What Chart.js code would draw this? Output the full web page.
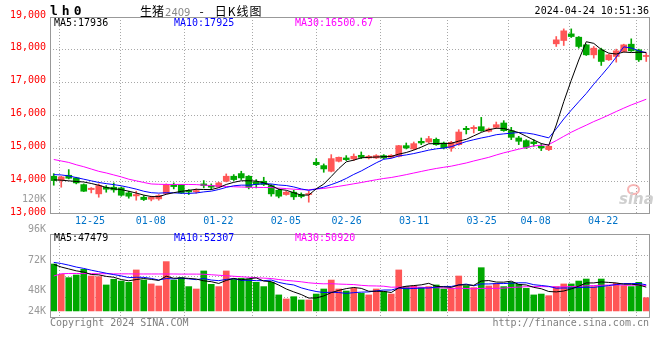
<!DOCTYPE html>
<html>
<head>
<meta charset="utf-8">
<script src="https://cdn.jsdelivr.net/npm/chart.js@4.4.0/dist/chart.umd.min.js"></script>
<style>
body { margin: 0; background: #fff; }
#wrap { position: relative; width: 660px; height: 360px; overflow: hidden; background: #fff; }
canvas { position: absolute; left: 0; top: 0; }
.t { position: absolute; font: 10px "DejaVu Sans Mono", monospace; line-height: 10px; white-space: nowrap; color: #000; }
</style>
</head>
<body>
<div id="wrap">
<canvas id="kline" width="660" height="230"></canvas>
<canvas id="vol" width="660" height="360"></canvas>
<div class="t" style="left:50px;top:4px;font-weight:bold;font-size:13px;line-height:13px;letter-spacing:4px">lh0</div>
<div class="t" style="left:140px;top:5px;font-family:'Noto Sans CJK SC';font-size:12px;line-height:12px">生猪<span style="color:#888;font-family:'DejaVu Sans';font-size:10px;margin-left:1px">2409</span><span style="margin:0 11px 0 9px">-</span><span style="letter-spacing:1px">日K线图</span></div>
<div class="t" style="right:11px;top:6px">2024-04-24 10:51:36</div>
<div class="t" style="left:54px;top:18px">MA5:17936</div>
<div class="t" style="left:174px;top:18px;color:#0000ff">MA10:17925</div>
<div class="t" style="left:295px;top:18px;color:#ff00ff">MA30:16500.67</div>
<div class="t" style="left:54px;top:233px">MA5:47479</div>
<div class="t" style="left:174px;top:233px;color:#0000ff">MA10:52307</div>
<div class="t" style="left:295px;top:233px;color:#ff00ff">MA30:50920</div>
<div class="t" style="left:50px;top:318px;color:#808080">Copyright 2024 SINA.COM</div>
<div class="t" style="right:11px;top:318px;color:#808080">http://finance.sina.com.cn</div>
<div style="position:absolute;left:627px;top:184px;width:9px;height:7px;border:2px solid rgba(240,120,120,0.55);border-radius:50%"></div>
<div class="t" style="left:619px;top:192px;font:italic bold 15px 'DejaVu Sans';line-height:15px;color:#cfcfcf">sina</div>
</div>
<script>
// datums (handelsdagen)
var dates = ['12-22','12-25','12-26','12-27','12-28','12-29','01-02','01-03','01-04','01-05',
  '01-08','01-09','01-10','01-11','01-12','01-15','01-16','01-17','01-18','01-19',
  '01-22','01-23','01-24','01-25','01-26','01-29','01-30','01-31','02-01','02-02',
  '02-05','02-06','02-07','02-08','02-19','02-20','02-21','02-22','02-23','02-26',
  '02-27','02-28','02-29','03-01','03-04','03-05','03-06','03-07','03-08','03-11',
  '03-12','03-13','03-14','03-15','03-18','03-19','03-20','03-21','03-22','03-25',
  '03-26','03-27','03-28','03-29','04-01','04-02','04-03','04-08','04-09','04-10',
  '04-11','04-12','04-15','04-16','04-17','04-18','04-19','04-22','04-23','04-24'];

// welke datums een label krijgen
var tickDates = ['12-25','01-08','01-22','02-05','02-26','03-11','03-25','04-08','04-22'];

var opens = [14150,14028,14180,14099,13896,13744,13613,13815,13815,13795,
  13643,13552,13511,13451,13461,13623,13886,13886,13714,13674,
  13917,13866,13826,13998,14150,14231,14150,13978,13998,13866,
  13724,13593,13664,13593,13593,14575,14474,14302,14606,14707,
  14677,14788,14707,14707,14778,14727,14758,15082,14981,15214,
  15193,15275,15163,15011,15112,15609,15599,15659,15518,15639,
  15772,15539,15316,15235,15194,15062,14961,18183,18284,18486,
  18385,18152,17848,18000,17696,17798,17950,18172,18000,17798];
var highs = [14230,14150,14352,14119,13917,13805,13917,13866,13947,13825,
  13694,13694,13562,13542,13592,13917,13947,13886,13744,13765,
  14018,13917,13967,14221,14200,14302,14170,14048,14119,13897,
  13765,13694,13724,13643,13694,14687,14525,14808,14737,14778,
  14829,14890,14788,14808,14808,14808,15092,15163,15193,15315,
  15366,15315,15193,15214,15568,15670,15690,15943,15619,15801,
  15843,15640,15366,15265,15265,15133,15093,18405,18638,18638,
  18405,18172,18102,18051,17869,18021,18172,18335,18021,17899];
var lows = [13876,13815,14068,13917,13684,13643,13511,13663,13663,13542,
  13481,13420,13410,13400,13420,13613,13765,13623,13592,13633,
  13795,13745,13816,13978,14018,14048,13765,13795,13866,13542,
  13491,13572,13441,13491,13360,14474,14271,14282,14585,14626,
  14626,14687,14677,14687,14677,14707,14737,14981,14960,15112,
  15163,15092,14981,14910,15092,15437,15467,15518,15497,15599,
  15518,15265,15113,14992,15062,14931,14931,18102,18132,18375,
  18051,17828,17747,17524,17676,17625,17929,17950,17646,17646];
var closes = [14018,14129,14089,13947,13694,13785,13866,13755,13734,13572,
  13542,13592,13440,13511,13562,13896,13835,13643,13674,13714,
  13866,13816,13947,14150,14048,14099,13816,13897,13897,13613,
  13542,13664,13522,13532,13623,14504,14373,14687,14727,14656,
  14758,14727,14758,14778,14707,14788,15082,15011,15143,15163,
  15295,15112,15011,15183,15497,15568,15639,15538,15588,15720,
  15539,15336,15215,15032,15144,15012,15062,18304,18578,18405,
  18102,17848,18051,17646,17848,17970,18152,17970,17696,17828];

// gemiddelden van de koers
var ma5 = [14040,14030,14010,13990,13975,13929,13876,13809,13767,13742,
  13694,13639,13576,13531,13529,13600,13649,13689,13722,13752,
  13746,13743,13803,13899,13965,14012,14012,14002,13951,13864,
  13753,13723,13648,13575,13577,13769,13911,14144,14383,14589,
  14640,14711,14725,14735,14746,14752,14823,14873,14946,15037,
  15139,15145,15145,15153,15220,15274,15380,15485,15566,15611,
  15605,15544,15480,15368,15253,15148,15093,15711,16420,17072,
  17690,18247,18197,18010,17899,17873,17933,17917,17927,17923];
var ma10 = [14200,14190,14160,14110,14060,14010,13960,13925,13895,13859,
  13811,13758,13693,13649,13636,13647,13644,13633,13627,13641,
  13673,13696,13746,13810,13859,13879,13877,13903,13925,13915,
  13883,13867,13825,13763,13721,13761,13817,13896,13979,14083,
  14205,14311,14435,14559,14668,14696,14767,14799,14841,14892,
  14945,14984,15009,15050,15129,15207,15262,15315,15359,15415,
  15440,15462,15482,15467,15432,15376,15319,15595,15894,16163,
  16419,16670,16954,17215,17486,17781,18090,18057,17969,17911];
var ma30 = [14660,14615,14570,14500,14440,14370,14300,14250,14190,14130,
  14060,14010,13960,13915,13905,13900,13900,13900,13900,13895,
  13880,13865,13850,13840,13830,13822,13815,13810,13807,13805,
  13789,13774,13755,13741,13738,13762,13779,13810,13843,13880,
  13920,13958,14002,14044,14082,14112,14154,14199,14248,14296,
  14344,14387,14423,14457,14506,14554,14615,14670,14726,14797,
  14863,14919,14975,15025,15076,15093,15116,15236,15365,15490,
  15601,15705,15815,15911,16015,16121,16224,16322,16407,16496];

// volume en de gemiddelden ervan
var vols = [68900,60700,58100,60200,64700,59400,58900,52300,56800,55400,
  54400,64200,56200,53100,51500,70800,56200,58100,51000,49100,
  63400,52800,51000,63400,57000,57600,57000,54400,51000,54400,
  44400,41200,43000,40400,40400,45100,49100,56200,49100,47500,
  49600,45700,44400,49100,47000,45100,64200,51000,51500,50200,
  51000,52300,49100,49600,59400,51700,50200,66000,51500,53600,
  51000,54400,52800,49600,44400,45100,43800,51000,53100,53100,
  55400,57000,51000,57000,51000,53600,51700,51000,54400,42200];
var volMa5 = [68600,66500,65000,63500,62500,60600,60300,59100,58400,56600,
  55600,56600,57400,56700,55900,59200,57600,57900,57500,57000,
  55600,54900,53500,55900,57500,56400,57200,57900,55400,54900,
  52200,49100,46800,44700,41900,42000,43600,46200,48000,49400,
  50300,49600,47300,47300,47200,46300,50000,51300,51800,52400,
  53600,51200,50800,50400,52300,52400,52000,55400,55800,54600,
  54500,55300,52700,52300,50400,49300,47100,46800,47500,49200,
  51300,53900,53900,54700,54300,53900,52900,52900,52300,50600];
var volMa10 = [70200,69300,68000,66500,65400,64000,62800,61600,60500,59500,
  58100,58400,58300,57500,56200,57400,57100,57700,57100,56500,
  57400,56200,55700,56700,57300,56000,56000,55700,55700,56200,
  54300,53100,52300,50000,48400,47100,46300,46500,46300,45600,
  46200,46600,46800,47600,48300,48300,49800,49300,49500,49800,
  49900,50600,51100,51100,52300,53000,51600,53100,53100,53400,
  53400,53700,54000,54000,52500,51900,51200,49700,49900,49800,
  50300,50500,50400,51100,51800,52600,53400,53400,53500,52400];
var volMa30 = [59400,61200,61400,61400,61300,61300,61200,61200,61100,61100,
  61100,61000,61000,61000,61000,61000,61000,60900,60900,60900,
  60800,60400,60000,59600,59200,58800,58400,58000,57700,57400,
  56600,55900,55400,54800,54000,53500,53200,53300,53000,52800,
  52600,52000,51600,51500,51300,50500,50700,50500,50500,50500,
  50100,50100,50000,49600,49700,49500,49200,49600,49600,49600,
  49800,50300,50600,50900,51000,51000,50900,50700,50800,51000,
  51200,51600,51800,52100,52200,52500,52100,52100,52200,51900];

var priceTicks = [13000,14000,15000,16000,17000,18000,19000];
var volTicks = [120000,96000,72000,48000,24000];

var RED = '#ff5656';
var GREEN = '#00a800';
var GRID = '#a8a8a8';

Chart.defaults.font.family = '"DejaVu Sans Mono", monospace';
Chart.defaults.font.size = 10;

// kleur per dag: rood als slot >= open
var colors = closes.map(function(c, i) { return c >= opens[i] ? RED : GREEN; });
var tickIdx = tickDates.map(function(d) { return dates.indexOf(d); });

// kader om het plotgebied
var frame = {
  id: 'frame',
  afterDatasetsDraw: function(chart) {
    var a = chart.chartArea, ctx = chart.ctx;
    ctx.save();
    ctx.strokeStyle = '#999';
    ctx.lineWidth = 1;
    ctx.strokeRect(Math.round(a.left) + 0.5, Math.round(a.top) + 0.5,
      Math.round(a.right - a.left) - 1, Math.round(a.bottom - a.top) - 1);
    ctx.restore();
  }
};

function lineSet(data, color) {
  return { type: 'line', data: data, borderColor: color, borderWidth: 1,
    pointRadius: 0, tension: 0, fill: false, order: 0 };
}

// x-as voor rasterlijnen en labels (zoals sina ze zet)
function gridAxis(showLabels) {
  return {
    type: 'linear', position: 'bottom', min: 0, max: dates.length - 1,
    afterBuildTicks: function(scale) {
      scale.ticks = tickIdx.map(function(v) { return { value: v }; });
    },
    afterFit: function(scale) { scale.height = showLabels ? 16 : 0; },
    grid: { color: GRID, drawTicks: false },
    border: { display: false, dash: [1, 2] },
    ticks: {
      display: showLabels, autoSkip: false, maxRotation: 0, padding: 1,
      color: '#0073c8',
      callback: function(v) { return dates[v]; }
    }
  };
}

new Chart(document.getElementById('kline'), {
  type: 'bar',
  data: {
    labels: dates,
    datasets: [
      lineSet(ma5, '#000000'),
      lineSet(ma10, '#0000ff'),
      lineSet(ma30, '#ff00ff'),
      { data: lows.map(function(l, i) { return [l, highs[i]]; }),
        backgroundColor: colors, barThickness: 1, grouped: false, order: 2 },
      { data: opens.map(function(o, i) { return [o, closes[i]]; }),
        backgroundColor: colors, barThickness: 6, minBarLength: 1, grouped: false, order: 1 }
    ]
  },
  options: {
    responsive: false,
    animation: false,
    layout: { padding: { top: 17, right: 10, bottom: 0, left: 0 } },
    plugins: { legend: { display: false }, tooltip: { enabled: false } },
    scales: {
      x: { display: false, offset: true },
      xg: gridAxis(true),
      y: {
        min: priceTicks[0], max: priceTicks[priceTicks.length - 1],
        afterFit: function(scale) { scale.width = 50; },
        afterBuildTicks: function(scale) {
          scale.ticks = priceTicks.map(function(v) { return { value: v }; });
        },
        grid: {
          drawTicks: false,
          color: function(ctx) {
            var v = ctx.tick && ctx.tick.value;
            return (v === priceTicks[0] || v === priceTicks[priceTicks.length - 1]) ? 'rgba(0,0,0,0)' : GRID;
          }
        },
        border: { display: false, dash: [1, 2] },
        ticks: { color: '#ff0000', padding: 4, labelOffset: -2 }
      }
    }
  },
  plugins: [frame]
});

// volume-as: waarden bij de pixels van sina
var volMin = 26100, volMax = 92700, volBase = 31700;

var volLabels = {
  id: 'volLabels',
  afterDraw: function(chart) {
    var y = chart.scales.y, ctx = chart.ctx;
    var bottom = y.getPixelForValue(volBase);
    ctx.save();
    ctx.font = '10px "DejaVu Sans Mono"';
    ctx.fillStyle = '#999';
    ctx.textAlign = 'right';
    ctx.textBaseline = 'middle';
    volTicks.forEach(function(v) {
      ctx.fillText(Math.round(v / 1000) + 'K', 46, Math.min(y.getPixelForValue(v), bottom));
    });
    ctx.restore();
  }
};

new Chart(document.getElementById('vol'), {
  type: 'bar',
  data: {
    labels: dates,
    datasets: [
      lineSet(volMa5, '#000000'),
      lineSet(volMa10, '#0000ff'),
      lineSet(volMa30, '#ff00ff'),
      { data: vols, backgroundColor: colors, barThickness: 6, base: volBase, order: 1 }
    ]
  },
  options: {
    responsive: false,
    animation: false,
    layout: { padding: { top: 234, right: 10, bottom: 42, left: 0 } },
    plugins: { legend: { display: false }, tooltip: { enabled: false } },
    scales: {
      x: { display: false, offset: true },
      xg: gridAxis(false),
      y: { display: false, min: volMin, max: volMax },
      yg: {
        type: 'linear', min: 0, max: 4,
        afterFit: function(scale) { scale.width = 50; },
        ticks: { display: false, stepSize: 1 },
        grid: {
          drawTicks: false,
          color: function(ctx) {
            var v = ctx.tick && ctx.tick.value;
            return (v === 0 || v === 4) ? 'rgba(0,0,0,0)' : GRID;
          }
        },
        border: { display: false, dash: [1, 2] }
      }
    }
  },
  plugins: [frame, volLabels]
});
</script>
</body>
</html>
